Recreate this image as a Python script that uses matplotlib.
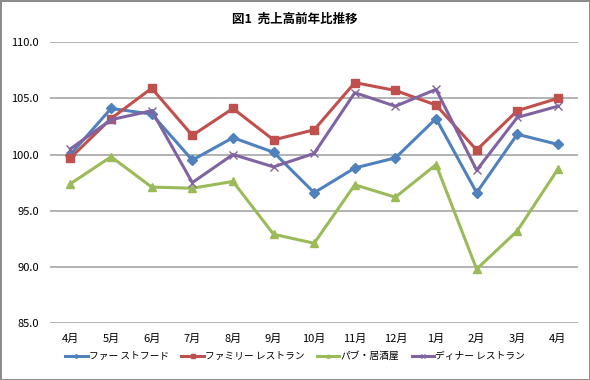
import matplotlib
matplotlib.use('Agg')
import matplotlib.pyplot as plt

plt.rcParams['font.family'] = ['Noto Sans CJK JP', 'DejaVu Sans']

# データ
months = ['4月', '5月', '6月', '7月', '8月', '9月', '10月', '11月', '12月', '1月', '2月', '3月', '4月']
fast_food = [100.0, 104.1, 103.6, 99.5, 101.5, 100.2, 96.6, 98.8, 99.7, 103.2, 96.6, 101.8, 100.9]
family = [99.7, 103.2, 105.9, 101.7, 104.1, 101.3, 102.2, 106.4, 105.7, 104.4, 100.4, 103.9, 105.0]
pub = [97.4, 99.8, 97.1, 97.0, 97.6, 92.9, 92.1, 97.3, 96.2, 99.1, 89.8, 93.2, 98.7]
dinner = [100.5, 103.1, 103.9, 97.5, 100.0, 98.9, 100.1, 105.5, 104.3, 105.8, 98.6, 103.3, 104.3]
yticks = [85.0, 90.0, 95.0, 100.0, 105.0, 110.0]

fig = plt.figure(figsize=(5.9, 3.8), dpi=100)
fig.patch.set_edgecolor('#8c8c8c')
fig.patch.set_linewidth(2)
ax = fig.add_axes([0.085, 0.15, 0.895, 0.739])

x = range(len(months))
ax.plot(x, fast_food, c='#4F81BD', lw=2.2, marker='D', ms=5, label='ファー ストフード')
ax.plot(x, family, c='#C0504D', lw=2.2, marker='s', ms=6, label='ファミリー レストラン')
ax.plot(x, pub, c='#9BBB59', lw=2.2, marker='^', ms=6, label='パブ・居酒屋')
ax.plot(x, dinner, c='#8064A2', lw=2.2, marker='x', ms=6, mew=1, label='ディナー レストラン')

ax.set_xlim(-0.5, len(months) - 0.5)
ax.set_ylim(85, 110)
ax.set_yticks(yticks)
ax.set_yticklabels(['%.1f' % v for v in yticks], fontsize=8)
ax.set_xticks(list(x))
ax.set_xticklabels(months, fontsize=8)
ax.tick_params(length=0, pad=8)
ax.grid(axis='y', color='#a6a6a6', lw=1.2)
ax.set_axisbelow(True)
for s in ax.spines.values():
    s.set_visible(False)

fig.text(0.5, 0.95, '図1  売上高前年比推移', ha='center', va='center', fontsize=9, fontweight='bold')
fig.legend(loc='center', bbox_to_anchor=(0.5, 0.063), ncol=4, frameon=False, fontsize=7,
           handlelength=2.3, columnspacing=1.3, handletextpad=0.1, markerscale=0.4)

plt.savefig('out.png', dpi=100)
